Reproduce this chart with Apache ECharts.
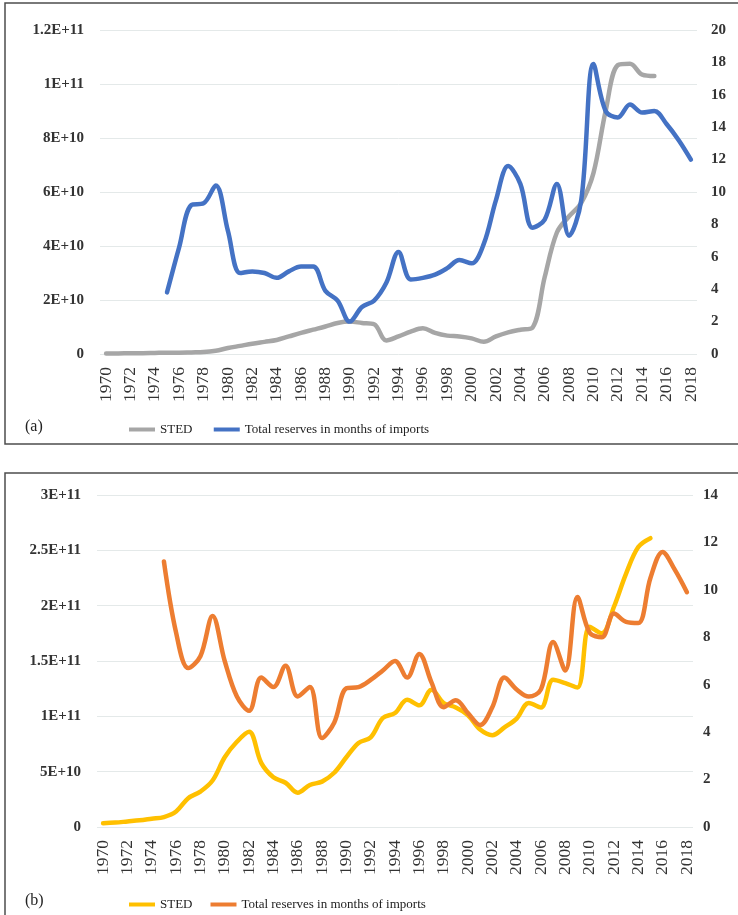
<!DOCTYPE html>
<html>
<head>
<meta charset="utf-8">
<script src="https://cdn.jsdelivr.net/npm/echarts@6/dist/echarts.min.js"></script>
<style>
html,body{margin:0;padding:0;background:#fff;}
#c{width:738px;height:915px;}
</style>
</head>
<body>
<div id="c"></div>
<script>
const years = ['1970','1971','1972','1973','1974','1975','1976','1977','1978','1979','1980','1981','1982','1983','1984','1985','1986','1987','1988','1989','1990','1991','1992','1993','1994','1995','1996','1997','1998','1999','2000','2001','2002','2003','2004','2005','2006','2007','2008','2009','2010','2011','2012','2013','2014','2015','2016','2017','2018'];

// Panel (a) — STED in units of 1E+10, reserves in months of imports
const stedA = [0.02,0.02,0.03,0.03,0.04,0.05,0.05,0.06,0.07,0.12,0.22,0.3,0.38,0.45,0.52,0.65,0.78,0.9,1.02,1.15,1.2,1.15,1.1,0.5,0.65,0.83,0.95,0.78,0.68,0.65,0.58,0.45,0.65,0.8,0.9,0.98,2.85,4.5,5.1,5.6,6.7,9.0,10.7,10.75,10.35,10.3,null,null,null];
const reservesA = [null,null,null,null,null,3.8,6.6,9.2,9.3,10.4,7.6,5.0,5.1,5.0,4.7,5.1,5.4,5.4,3.9,3.3,2.0,2.9,3.3,4.4,6.3,4.6,4.7,4.9,5.3,5.8,5.6,6.8,9.5,11.6,10.5,7.8,8.3,10.5,7.3,9.5,17.9,15.0,14.6,15.4,14.9,15.0,14.2,13.2,12.0];
const leftTicksA = ['0','2E+10','4E+10','6E+10','8E+10','1E+11','1.2E+11'];

// Panel (b)
const stedB = [0.35,0.4,0.5,0.6,0.75,0.9,1.4,2.6,3.2,4.2,6.3,7.7,8.6,5.8,4.5,4.0,3.1,3.8,4.1,4.9,6.3,7.6,8.1,9.85,10.3,11.5,11.0,12.4,11.2,10.8,10.1,8.8,8.3,9.0,9.8,11.2,10.8,13.3,13.0,12.6,18.1,17.5,19.9,22.9,25.3,26.1,null,null,null];
const reservesB = [null,null,null,null,null,11.2,8.2,6.7,7.2,8.9,7.0,5.5,4.9,6.3,5.9,6.8,5.5,5.9,3.75,4.4,5.85,5.9,6.2,6.6,7.0,6.3,7.3,6.1,5.05,5.35,4.8,4.3,5.05,6.3,5.8,5.5,5.8,7.8,6.6,9.7,8.2,8.0,9.0,8.65,8.6,10.5,11.6,10.85,9.9];
const leftTicksB = ['0','5E+10','1E+11','1.5E+11','2E+11','2.5E+11','3E+11'];

const seriesNames = ['STED','Total reserves in months of imports'];
const FONT = '"Liberation Serif", "Times New Roman", serif';
const txt = '#333';
const gridColor = '#e4e9e9';

function xAxis(gridIndex){
  return {
    type:'category', gridIndex, data: years, boundaryGap:true,
    axisLine:{show:false}, axisTick:{show:false},
    axisLabel:{interval:1, rotate:90, fontFamily:FONT, fontSize:17.5, color:txt, margin:13}
  };
}
function leftAxis(gridIndex, max, interval, labels){
  return {
    type:'value', gridIndex, min:0, max, interval, position:'left',
    axisLine:{show:false}, axisTick:{show:false},
    splitLine:{show:true, lineStyle:{color:gridColor, width:1}},
    axisLabel:{fontFamily:FONT, fontSize:15, fontWeight:'bold', color:txt, margin:16,
      formatter:(v)=>labels[Math.round(v/interval)]}
  };
}
function rightAxis(gridIndex, max, margin){
  return {
    type:'value', gridIndex, min:0, max, interval:2, position:'right',
    axisLine:{show:false}, axisTick:{show:false}, splitLine:{show:false},
    axisLabel:{fontFamily:FONT, fontSize:15, fontWeight:'bold', color:txt, margin}
  };
}
function line(name, data, xi, yi, color, z){
  return {
    type:'line', name, data, xAxisIndex:xi, yAxisIndex:yi, smooth:0.35,
    showSymbol:false, symbol:'none', z,
    lineStyle:{color, width:4.5, cap:'round', join:'round'},
    itemStyle:{color}
  };
}
function legend(top, names){
  return {
    top, left:124, itemWidth:26, itemHeight:4, itemGap:18, icon:'rect',
    data:names, textStyle:{fontFamily:FONT, fontSize:13, color:'#222'}
  };
}

const chart = echarts.init(document.getElementById('c'), null, {renderer:'canvas'});
chart.setOption({
  backgroundColor:'#fff',
  animation:false,
  grid:[
    {left:100, right:41, top:30, height:324},
    {left:97, right:45, top:495, height:332}
  ],
  xAxis:[xAxis(0), xAxis(1)],
  yAxis:[
    leftAxis(0, 12, 2, leftTicksA),
    rightAxis(0, 20, 14),
    leftAxis(1, 30, 5, leftTicksB),
    rightAxis(1, 14, 10)
  ],
  legend:[
    legend(418, [{name:'STED '}, {name:'Total reserves in months of imports '}]),
    legend(893, [{name:'STED'}, {name:'Total reserves in months of imports'}])
  ],
  series:[
    line('STED ', stedA, 0, 0, '#a6a6a6', 2),
    line('Total reserves in months of imports ', reservesA, 0, 1, '#4472c4', 3),
    line(seriesNames[0], stedB, 1, 2, '#ffc000', 2),
    line(seriesNames[1], reservesB, 1, 3, '#ed7d31', 3)
  ],
  graphic:[
    {type:'rect', shape:{x:5, y:3, width:740, height:441}, style:{fill:'none', stroke:'#4d4d4d', lineWidth:1.5}, silent:true, z:-1},
    {type:'rect', shape:{x:5, y:473, width:740, height:450}, style:{fill:'none', stroke:'#4d4d4d', lineWidth:1.5}, silent:true, z:-1},
    {type:'text', left:25, top:419, style:{text:'(a)', font:'16px '+FONT, fill:'#222'}},
    {type:'text', left:25, top:893, style:{text:'(b)', font:'16px '+FONT, fill:'#222'}}
  ]
});
</script>
</body>
</html>
